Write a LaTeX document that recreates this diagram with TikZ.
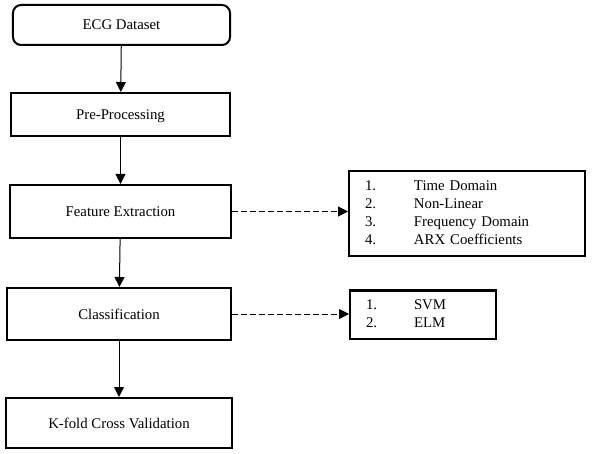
\documentclass[tikz,border=0pt]{standalone}
\usepackage{fontspec}
\setmainfont{Liberation Serif}
\usetikzlibrary{arrows.meta}
\begin{document}
\begin{tikzpicture}[x=1bp,y=-1bp,
  box/.style={draw, line width=2bp, inner sep=0pt, font=\fontsize{14.8bp}{18bp}\selectfont},
  stepbox/.style={box, text height=10bp, text depth=0bp},
  listbox/.style={box, align=left},
  arr/.style={line width=1bp, -{Triangle[length=10bp,width=10bp]}},
  darr/.style={arr, dash pattern=on 6bp off 3bp}]
\useasboundingbox (0,0) rectangle (597,454);
\fill[white] (0,0) rectangle (597,454);
\node[stepbox, rounded corners=8bp, minimum width=217bp, minimum height=40bp] (b1) at (121.5,25) {ECG Dataset};
\node[stepbox, minimum width=219bp, minimum height=43bp] (b2) at (120.5,114.5) {Pre-Processing};
\node[stepbox, minimum width=221bp, minimum height=53bp] (b3) at (120.5,211.5) {Feature Extraction};
\node[stepbox, minimum width=224bp, minimum height=52bp] (b4) at (119,314) {Classification};
\node[stepbox, minimum width=226bp, minimum height=50bp] (b5) at (119,423) {K-fold Cross Validation};
\node[listbox, minimum width=236bp, minimum height=85bp, text width=204bp] (l1) at (467,213.5)
  {\begin{tabular}{@{}p{49bp}@{}l@{}}1. & Time Domain\\ 2. & Non-Linear\\ 3. & Frequency Domain\\ 4. & ARX Coefficients\end{tabular}};
\node[listbox, minimum width=146bp, minimum height=48bp, text width=114bp] (l2) at (423,314.5)
  {\begin{tabular}{@{}p{48bp}@{}l@{}}1. & SVM\\ 2. & ELM\end{tabular}};
\draw[arr] (b1) -- (b2);
\draw[arr] (b2) -- (b3);
\draw[arr] (b3) -- (b4);
\draw[arr] (b4) -- (b5);
\draw[darr] (b3.east) -- (b3.east -| l1.west);
\draw[darr] (b4.east) -- (b4.east -| l2.west);
\end{tikzpicture}
\end{document}
